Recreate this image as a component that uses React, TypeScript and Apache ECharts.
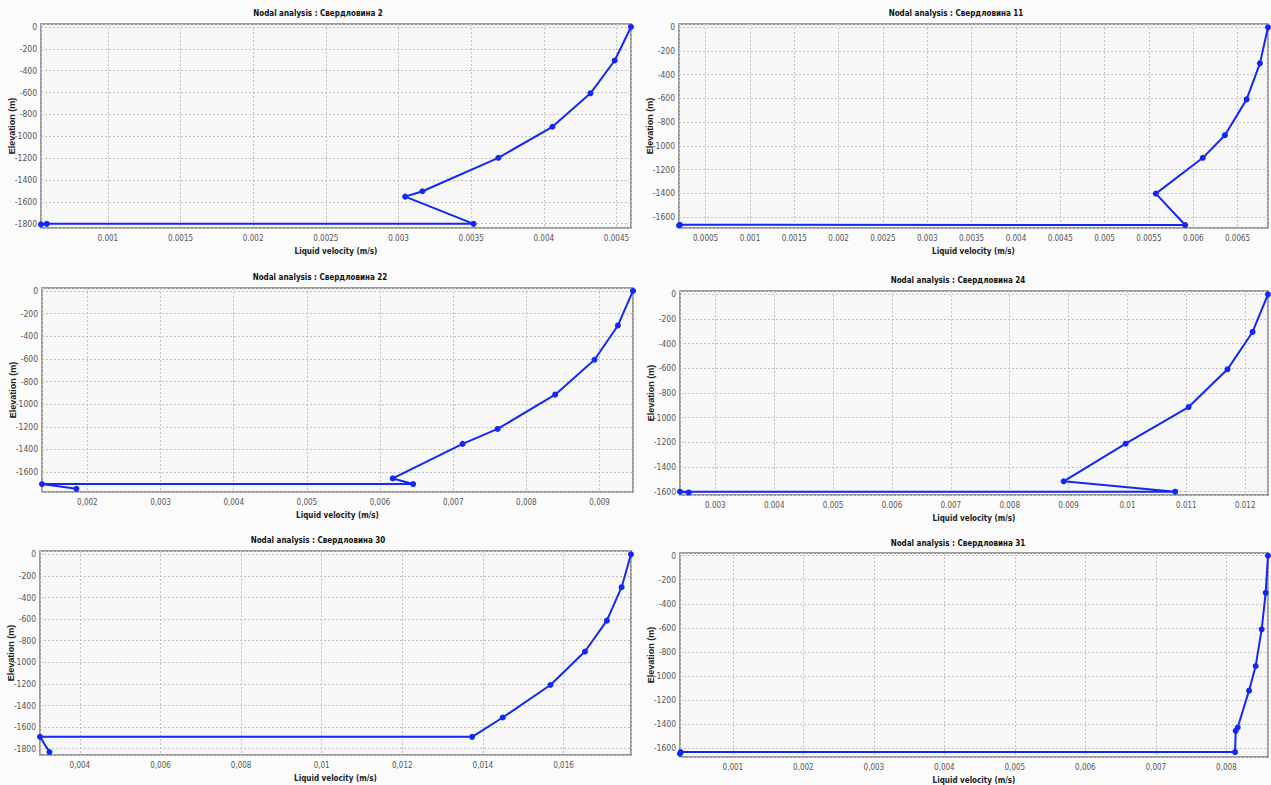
import React, { useEffect, useRef } from 'react';
import * as echarts from 'echarts';

// ---- data ----
const wellNames = ['Свердловина 2', 'Свердловина 11', 'Свердловина 22', 'Свердловина 24', 'Свердловина 30', 'Свердловина 31'];

const vel2 = [0.0046, 0.004488, 0.004321, 0.004059, 0.003687, 0.003165, 0.003046, 0.003517, 0.00058, 0.00054];
const elev2 = [0, -307, -607, -913, -1197, -1503, -1552, -1801, -1801, -1806];

const vel11 = [0.006843, 0.006752, 0.006602, 0.006357, 0.006108, 0.005578, 0.005909, 0.00021, 0.0002];
const elev11 = [0, -304, -608, -910, -1101, -1403, -1668, -1666, -1672];

const vel22 = [0.009457, 0.009251, 0.008931, 0.008393, 0.007607, 0.007128, 0.006174, 0.006452, 0.00138, 0.00185];
const elev22 = [0, -305, -608, -916, -1219, -1351, -1656, -1706, -1706, -1748];

const vel24 = [0.012387, 0.012125, 0.011699, 0.011038, 0.009969, 0.008916, 0.010811, 0.0024, 0.00255];
const elev24 = [0, -305, -608, -914, -1211, -1516, -1600, -1600, -1606];

const vel30 = [0.017675, 0.017442, 0.017075, 0.016533, 0.015675, 0.014492, 0.013733, 0.00301, 0.003245];
const elev30 = [0, -304, -614, -900, -1210, -1511, -1690, -1690, -1831];

const vel31 = [0.00859, 0.008557, 0.0085, 0.008415, 0.008321, 0.00816, 0.008132, 0.008123, 0.00026, 0.00025];
const elev31 = [0, -309, -612, -917, -1121, -1427, -1455, -1631, -1631, -1645];

const velocities = [vel2, vel11, vel22, vel24, vel30, vel31];
const elevations = [elev2, elev11, elev22, elev24, elev30, elev31];

// axis ticks
const xTickSteps = [0.0005, 0.0005, 0.001, 0.001, 0.002, 0.001];
const decimalSeps = ['.', '.', ',', '.', ',', ','];
const yTickStep = 200;
const yMins = [-1839, -1693, -1776, -1627, -1858, -1672];
const yMaxs = [27, 28, 26, 27, 31, 22];

// ---- layout ----
const gridRects = [
  [41, 24, 631, 228],
  [679, 24, 1269, 228],
  [42, 288, 633, 492],
  [680, 291, 1269, 495],
  [40, 551, 631, 755],
  [680, 553, 1269, 758],
];
const titlePos = [
  [318, 9],
  [956, 9],
  [320, 273],
  [958, 276],
  [318, 536],
  [958, 539],
];

const LINE = '#1428f5';
const NARROW = '"Liberation Sans Narrow", "DejaVu Sans Condensed", "Arial Narrow", sans-serif';
const SANS = '"Liberation Sans", Arial, sans-serif';

function fmtX(step: number, sep: string) {
  return (v: number) => {
    const k = Math.round(v / step);
    if (Math.abs(v - k * step) > step * 1e-4) return '';
    const s = parseFloat((k * step).toFixed(6)).toString();
    return s.replace('.', sep);
  };
}
function fmtY(v: number) {
  const k = Math.round(v / yTickStep);
  if (Math.abs(v - k * yTickStep) > 1e-6) return '';
  return String(k * yTickStep);
}

export default function App() {
  const ref = useRef<HTMLDivElement>(null);
  useEffect(() => {
    if (!ref.current) return;
    const chart = echarts.init(ref.current, undefined, { renderer: 'svg' });
    const grids = gridRects.map(([l, t, r, b]) => ({
      left: l,
      top: t,
      width: r - l,
      height: b - t,
      show: true,
      backgroundColor: '#f7f7f7',
      borderColor: '#7d7d7d',
      borderWidth: 1.5,
      containLabel: false,
    }));
    const titles = wellNames.map((n, i) => ({
      text: 'Nodal analysis : ' + n,
      left: titlePos[i][0],
      top: titlePos[i][1],
      textAlign: 'center',
      padding: 0,
      textStyle: { fontFamily: NARROW, fontSize: 8, fontWeight: 'bold', color: '#111' },
    }));
    const gridLine = { show: true, lineStyle: { color: '#c2c2c2', type: [2, 2], width: 1 } };
    const xAxes = wellNames.map((_, i) => ({
      type: 'value',
      gridIndex: i,
      min: 'dataMin',
      max: 'dataMax',
      minInterval: xTickSteps[i],
      maxInterval: xTickSteps[i],
      axisLine: { show: false },
      axisTick: { show: false },
      splitLine: gridLine,
      axisLabel: {
        formatter: fmtX(xTickSteps[i], decimalSeps[i]),
        fontFamily: NARROW,
        fontSize: 8,
        color: '#555',
        margin: 6,
      },
      name: 'Liquid velocity (m/s)',
      nameLocation: 'middle',
      nameGap: 19,
      nameMoveOverlap: false,
      nameTextStyle: { fontFamily: NARROW, fontSize: 8, fontWeight: 'bold', color: '#222' },
    }));
    const yAxes = wellNames.map((_, i) => ({
      type: 'value',
      gridIndex: i,
      min: yMins[i],
      max: yMaxs[i],
      minInterval: yTickStep,
      maxInterval: yTickStep,
      axisLine: { show: false },
      axisTick: { show: false },
      splitLine: gridLine,
      axisLabel: {
        formatter: fmtY,
        fontFamily: NARROW,
        fontSize: 8.5,
        color: '#555',
        margin: 4,
      },
      name: 'Elevation (m)',
      nameLocation: 'middle',
      nameGap: 25,
      nameMoveOverlap: false,
      nameTextStyle: { fontFamily: SANS, fontSize: 9, fontWeight: 'bold', color: '#222' },
    }));
    const series = wellNames.map((n, i) => ({
      type: 'line',
      name: n,
      xAxisIndex: i,
      yAxisIndex: i,
      data: velocities[i].map((v, j) => [v, elevations[i][j]]),
      symbol: 'circle',
      symbolSize: 6,
      showSymbol: true,
      clip: false,
      lineStyle: { color: LINE, width: 2 },
      itemStyle: { color: LINE },
      emphasis: { disabled: true },
    }));
    chart.setOption({
      animation: false,
      backgroundColor: '#fbfbfb',
      title: titles,
      grid: grids,
      xAxis: xAxes,
      yAxis: yAxes,
      series,
    });
    return () => chart.dispose();
  }, []);
  return (
    <div
      ref={ref}
      style={{ position: 'absolute', left: 0, top: 0, width: 1271, height: 785 }}
    />
  );
}
